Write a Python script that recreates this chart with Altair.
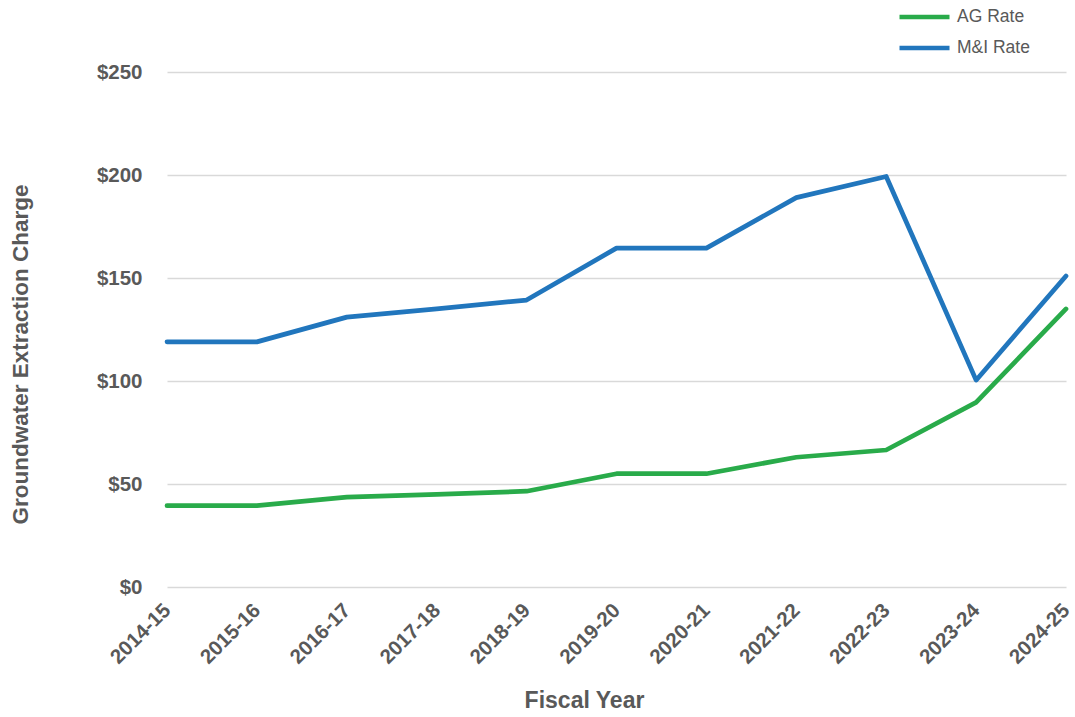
import altair as alt
import pandas as pd

years = ["2014-15", "2015-16", "2016-17", "2017-18", "2018-19", "2019-20",
         "2020-21", "2021-22", "2022-23", "2023-24", "2024-25"]
ag_rate = [39.5, 39.5, 43.6, 45, 46.5, 55, 55, 63, 66.5, 89.6, 135]
mi_rate = [119, 119, 131, 135, 139.3, 164.5, 164.5, 189, 199.3, 100.4, 151]
series = ["AG Rate", "M&I Rate"]
colors = ["#29AB4A", "#2176BD"]

rows = []
for i, y in enumerate(years):
    rows.append({"year": y, "series": "AG Rate", "value": ag_rate[i], "order": 0})
    rows.append({"year": y, "series": "M&I Rate", "value": mi_rate[i], "order": 1})
df = pd.DataFrame(rows)

font = "Liberation Sans"
gray = "#595959"

chart = alt.Chart(df).mark_line(strokeWidth=4.7, strokeCap="round", strokeJoin="round").encode(
    x=alt.X("year:N", sort=years,
            scale=alt.Scale(type="point", padding=0),
            axis=alt.Axis(title="Fiscal Year", labelAngle=-45, labelAlign="right",
                          labelBaseline="middle", labelPadding=20, ticks=False, domain=False,
                          grid=False, labelFont=font, labelFontSize=20.5, labelFontWeight="bold",
                          labelColor=gray, titleFont=font, titleFontSize=23,
                          titleFontWeight="bold", titleColor=gray,
                          titleX=417, titleY=113, titleBaseline="middle", titleAlign="center")),
    y=alt.Y("value:Q", scale=alt.Scale(domain=[0, 250], nice=False),
            axis=alt.Axis(title="Groundwater Extraction  Charge", values=[0, 50, 100, 150, 200, 250],
                          format="$,.0f", ticks=False, domain=False, grid=True,
                          gridColor="#D9D9D9", gridWidth=1.5, labelPadding=25,
                          labelFont=font, labelFontSize=20.5, labelFontWeight="bold",
                          labelColor=gray, titleFont=font, titleFontSize=22.5,
                          titleFontWeight="bold", titleColor=gray,
                          titleX=-147, titleY=282, titleAngle=-90,
                          titleBaseline="middle", titleAlign="center")),
    color=alt.Color("series:N", sort=series,
                    scale=alt.Scale(domain=series, range=colors),
                    legend=alt.Legend(title=None, orient="none", legendX=730, legendY=-65,
                                      symbolType="stroke", symbolStrokeWidth=4.7,
                                      symbolSize=2500, clipHeight=20,
                                      labelFont=font, labelFontSize=17.5,
                                      labelColor=gray, rowPadding=11, labelOffset=5)),
    order=alt.Order("order:Q"),
).properties(
    width=899, height=515,
    autosize=alt.AutoSizeParams(type="none"),
    padding={"left": 167, "top": 72, "right": 9, "bottom": 130},
).configure(background="white", view=alt.ViewConfig(stroke=None))

chart.save("out.html", embed_options={"renderer": "svg", "actions": False})
